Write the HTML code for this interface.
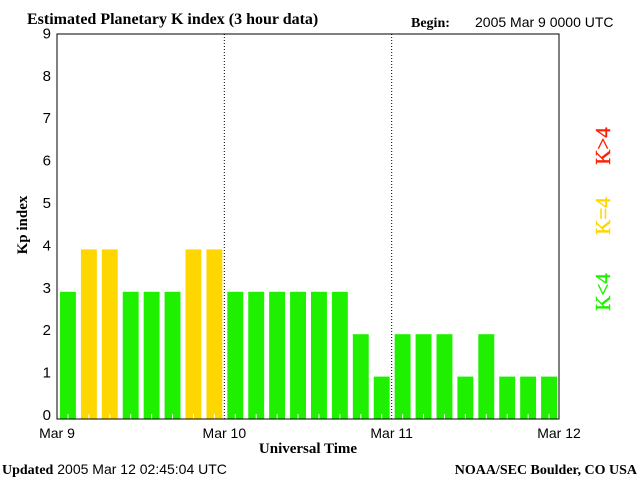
<!DOCTYPE html>
<html><head><meta charset="utf-8"><style>
body{margin:0;background:#fff;}
svg text{font-family:"Liberation Sans",sans-serif;}
.serif{font-family:"Liberation Serif",serif;}
</style></head><body>
<svg width="640" height="480" xmlns="http://www.w3.org/2000/svg">
<text class="serif" x="27" y="24" font-size="16" font-weight="bold">Estimated Planetary K index (3 hour data)</text>
<text class="serif" x="411" y="27" font-size="14" font-weight="bold">Begin:</text>
<text x="475" y="27" font-size="14">2005 Mar 9 0000 UTC</text>
<g id="plot"></g>
<text class="serif" x="27" y="225" font-size="15" font-weight="bold" transform="rotate(-90 27 225)" text-anchor="middle">Kp index</text>
<text class="serif" x="308" y="453" font-size="15" font-weight="bold" text-anchor="middle">Universal Time</text>
<text x="2" y="474" font-size="14"><tspan font-weight="bold" font-family="Liberation Serif">Updated</tspan> 2005 Mar 12 02:45:04 UTC</text>
<text class="serif" x="637" y="474" font-size="14" font-weight="bold" text-anchor="end">NOAA/SEC Boulder, CO USA</text>
<text class="serif" x="610" y="292" font-size="21" fill="#1ef000" stroke="#1ef000" stroke-width="0.4" transform="rotate(-90 610 292)" text-anchor="middle">K&lt;4</text>
<text class="serif" x="610" y="216" font-size="21" fill="#ffd700" stroke="#ffd700" stroke-width="0.4" transform="rotate(-90 610 216)" text-anchor="middle">K=4</text>
<text class="serif" x="610" y="146" font-size="21" fill="#ff2000" stroke="#ff2000" stroke-width="0.4" transform="rotate(-90 610 146)" text-anchor="middle">K&gt;4</text>
</svg>
<script>
const kpValues=[3,4,4,3,3,3,4,4,3,3,3,3,3,3,2,1,2,2,2,1,2,1,1,1];
const yTicks=[0,1,2,3,4,5,6,7,8,9];
const dayLabels=["Mar 9","Mar 10","Mar 11","Mar 12"];
const NS="http://www.w3.org/2000/svg";
const g=document.getElementById('plot');
const L=57,R=559,T=34,B=419,unit=42.4;
const bw=(R-L)/kpValues.length;
const y=v=>B-v*unit;
const x=i=>L+i*bw;
function mk(t,a){const e=document.createElementNS(NS,t);for(const k in a)e.setAttribute(k,a[k]);g.appendChild(e);return e;}
kpValues.forEach((v,i)=>{
 const c=v<4?'#1ef000':(v==4?'#ffd700':'#ff2000');
 const r=mk('rect',{x:x(i)+3,y:y(v),width:bw-5,height:B-y(v),fill:c});
 
 
 const t=mk('line',{x1:x(i)+3+(bw-5)/2,x2:x(i)+3+(bw-5)/2,y1:B-5,y2:B,stroke:'#fff'});
 
 
});
[1,2].forEach(d=>{
 const l=mk('line',{x1:L+d*(R-L)/3,x2:L+d*(R-L)/3,y1:T,y2:B,stroke:'#000','stroke-dasharray':'1,2'});
 
 
});
const fr=mk('path',{d:`M${L},${T}H${R}V${B}H${L}Z`,fill:'none',stroke:'#000'});


yTicks.forEach(v=>{
 const t=mk('text',{x:51,y:y(v)+1,'font-size':15,'text-anchor':'end'});
 t.textContent=v;
 
 
});
dayLabels.forEach((d,i)=>{
 const t=mk('text',{x:L+i*(R-L)/3,y:438,'font-size':14,'text-anchor':'middle'});
 t.textContent=d;
 
 
});
</script>
</body></html>
